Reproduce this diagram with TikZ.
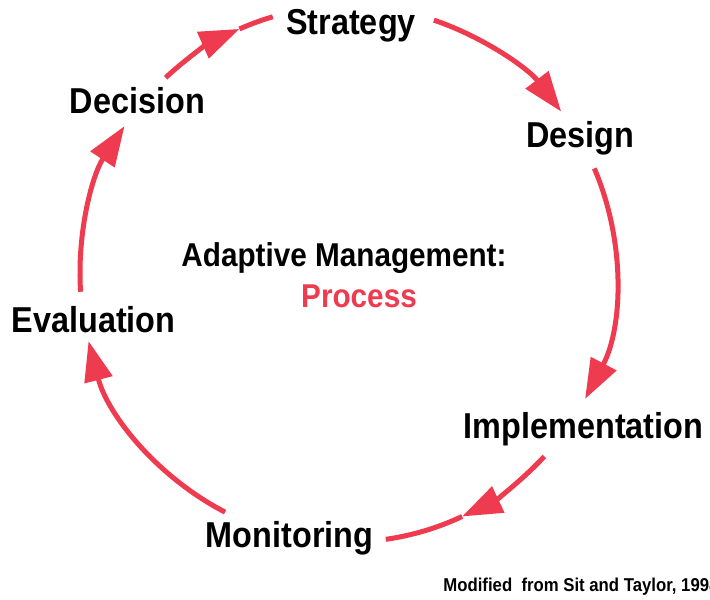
\documentclass[tikz,border=0pt]{standalone}
\usepackage{fontspec}
\setmainfont{Liberation Sans}[FakeStretch=0.9]
\usetikzlibrary{arrows.meta}
\definecolor{cyclered}{RGB}{239,59,79}
\tikzset{
  stage/.style={font=\fontsize{18}{20}\selectfont\bfseries, inner sep=0pt, anchor=base},
  cycle/.style={draw=cyclered, line width=2.5pt},
  tip/.style={cycle, -{Triangle[length=20pt,width=14pt]}}
}
\begin{document}
\begin{tikzpicture}[x=0.5pt, y=0.5pt]
        \useasboundingbox (0,0) rectangle (710,599);
        \def\r{134pt}
        \coordinate (C) at (348,325);
        \node[stage] (St) at (351,564) {Strategy};
        \node[stage] (De) at (580,451) {Design};
        \node[stage] (Im) at (583.5,161) {Implementation};
        \node[stage] (Mo) at (289.5,52) {Monitoring};
        \node[stage] (Ev) at (93.5,266) {Evaluation};
        \node[stage] (Dc) at (137.5,485) {Decision};
        \node[font=\fontsize{16.5}{18}\selectfont\bfseries, inner sep=0pt, anchor=base] (AM) at (344,332) {Adaptive Management:};
        \node[font=\fontsize{16.5}{18}\selectfont\bfseries, text=cyclered, inner sep=0pt, anchor=base] (Pr) at (359,291) {Process};
        \node[font=\fontsize{9.3}{11}\selectfont\bfseries, inner sep=0pt, anchor=base west] (Src) at (443,8) {Modified\ \ from Sit and Taylor, 1998};
        % points on the cycle
        \coordinate (p1) at ([shift={(C)}]132.9:\r);
        \coordinate (p1m) at ([shift={(C)}]113.9:\r);
        \coordinate (p2) at ([shift={(C)}]71.3:\r);
        \coordinate (p3) at ([shift={(C)}]23.2:\r);
        \coordinate (p4) at ([shift={(C)}]-42.9:\r);
        \coordinate (p4m) at ([shift={(C)}]-64.8:\r);
        \coordinate (p5) at ([shift={(C)}]242.7:\r);
        \coordinate (p6) at ([shift={(C)}]183.8:\r);
        \draw[tip] (p1) arc[start angle=132.9, end angle=113.9, radius=\r];
        \draw[cycle] (p1m) arc[start angle=113.9, end angle=106.3, radius=\r];
        \draw[tip] (p2) arc[start angle=71.3, end angle=37.3, radius=\r];
        \draw[tip] (p3) arc[start angle=23.2, end angle=-27.8, radius=\r];
        \draw[tip] (p4) arc[start angle=-42.9, end angle=-64.8, radius=\r];
        \draw[cycle] (p4m) arc[start angle=-64.8, end angle=-81.9, radius=\r];
        \draw[tip] (p5) arc[start angle=242.7, end angle=194.5, radius=\r];
        \draw[tip] (p6) arc[start angle=183.8, end angle=146.5, radius=\r];
      \end{tikzpicture}
\end{document}
